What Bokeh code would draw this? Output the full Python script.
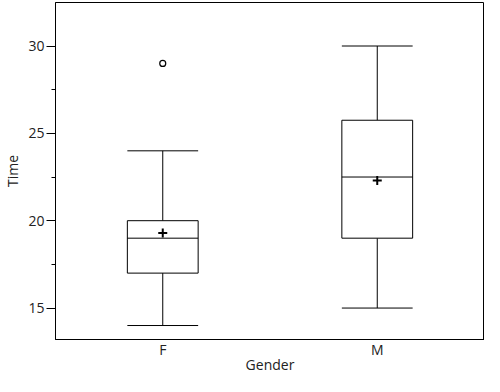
from bokeh.plotting import figure
from bokeh.models import FactorRange, Range1d, SingleIntervalTicker
from bokeh.transform import dodge
from bokeh.embed import file_html
from bokeh.resources import INLINE

# data
genders = ["F", "M"]
whisker_low = [14, 15]
q1 = [17, 19]
median = [19, 22.5]
q3 = [20, 25.75]
whisker_high = [24, 30]
means = [19.3, 22.3]
outlier_gender = ["F"]
outlier_time = [29]

FONT = "Open Sans"
TXT = "#222222"
HALF = 0.165

p = figure(width=484, height=376, x_range=FactorRange(*genders),
           y_range=Range1d(13.2, 32.49), output_backend="svg",
           toolbar_location=None, min_border_left=53, min_border_right=0,
           min_border_top=2, min_border_bottom=0)
p.background_fill_color = "white"
p.border_fill_color = "white"
p.outline_line_color = "black"
p.outline_line_width = 1
p.grid.visible = False

src = dict(g=genders, lo=whisker_low, q1=q1, med=median, q3=q3, hi=whisker_high, mean=means)

# whiskers
p.segment(x0="g", x1="g", y0="q3", y1="hi", source=src, line_color="black", line_width=1)
p.segment(x0="g", x1="g", y0="lo", y1="q1", source=src, line_color="black", line_width=1)
# caps
p.segment(x0=dodge("g", -HALF, range=p.x_range), x1=dodge("g", HALF, range=p.x_range),
          y0="hi", y1="hi", source=src, line_color="black", line_width=1)
p.segment(x0=dodge("g", -HALF, range=p.x_range), x1=dodge("g", HALF, range=p.x_range),
          y0="lo", y1="lo", source=src, line_color="black", line_width=1)
# box
p.vbar(x="g", width=2 * HALF, bottom="q1", top="q3", source=src,
       fill_color="white", line_color="black", line_width=1)
# median
p.segment(x0=dodge("g", -HALF, range=p.x_range), x1=dodge("g", HALF, range=p.x_range),
          y0="med", y1="med", source=src, line_color="black", line_width=1)
# mean
p.scatter(x="g", y="mean", source=src, marker="cross", size=9,
          line_color="black", line_width=2)
# outlier
p.scatter(x=outlier_gender, y=outlier_time, marker="circle", size=6,
          fill_color=None, line_color="black", line_width=1.2)

# axes
p.yaxis.ticker = SingleIntervalTicker(interval=5, num_minor_ticks=2)
p.yaxis.axis_label = "Time"
p.xaxis.axis_label = "Gender"
for ax in (p.xaxis[0], p.yaxis[0]):
    ax.axis_line_color = "black"
    ax.axis_label_text_font = FONT
    ax.axis_label_text_font_size = "14px"
    ax.axis_label_text_font_style = "normal"
    ax.axis_label_text_color = TXT
    ax.major_label_text_font = FONT
    ax.major_label_text_font_size = "14px"
    ax.major_label_text_color = TXT
    ax.major_tick_line_color = "black"
    ax.minor_tick_line_color = "black"
p.yaxis.major_tick_out = 9
p.yaxis.major_tick_in = 0
p.yaxis.minor_tick_out = 4
p.yaxis.minor_tick_in = 0
p.yaxis.major_label_standoff = 2
p.yaxis.axis_label_standoff = 3
p.xaxis.major_tick_out = 0
p.xaxis.major_tick_in = 0
p.xaxis.major_label_standoff = 0
p.xaxis.axis_label_standoff = -7

open("out.html", "w").write(file_html(p, INLINE))
